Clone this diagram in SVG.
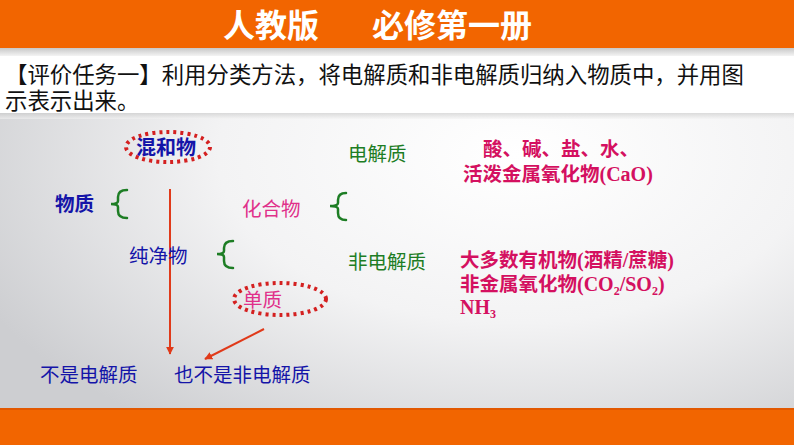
<svg xmlns="http://www.w3.org/2000/svg" width="794" height="445" viewBox="0 0 794 445">
<defs>
<radialGradient id="bg" cx="0.65" cy="0.35" r="0.75">
<stop offset="0" stop-color="#ffffff"/>
<stop offset="0.5" stop-color="#f3f3f4"/>
<stop offset="1" stop-color="#cdced1"/>
</radialGradient>
<linearGradient id="sep" x1="0" y1="0" x2="0" y2="1">
<stop offset="0" stop-color="#c8c8c8"/>
<stop offset="1" stop-color="#f4f4f4"/>
</linearGradient>
<marker id="ah" viewBox="0 0 10 10" refX="9" refY="5" markerWidth="4" markerHeight="4" orient="auto">
<path d="M0,0 L10,5 L0,10 z" fill="#e03a1a"/>
</marker>
<style>
.t{font-family:"Noto Sans CJK SC","Liberation Sans",sans-serif;}
.s{font-family:"Liberation Serif","Noto Sans CJK SC",serif;font-weight:bold;}
.blue{fill:#1414a8;}
.green{fill:#1d7d24;}
.pink{fill:#e0308a;}
.crim{fill:#d41060;}
.brace{fill:none;stroke:#1d7d24;stroke-width:2.5;stroke-linecap:round;}
.dot{fill:none;stroke:#d42020;stroke-width:4;stroke-dasharray:3 4;}
.arr{stroke:#e03a1a;stroke-width:2;fill:none;}
</style>
</defs>
<rect x="0" y="0" width="794" height="445" fill="url(#bg)"/>
<rect x="0" y="0" width="794" height="48" fill="#f26500"/>
<rect x="0" y="48" width="794" height="8" fill="url(#sep)"/>
<rect x="0" y="56" width="794" height="57" fill="#ffffff"/>
<rect x="0" y="113" width="794" height="6" fill="url(#sep)" opacity="0.6"/>
<rect x="0" y="409" width="794" height="36" fill="#f26500"/>
<rect x="0" y="408" width="794" height="2" fill="#e25800"/>

<text class="t" x="223" y="37" font-size="32" font-weight="bold" fill="#ffffff">人教版</text>
<text class="t" x="372" y="37" font-size="32" font-weight="bold" fill="#ffffff">必修第一册</text>
<text class="t" font-size="22.4" fill="#111111"><tspan x="5" y="83">【评价任务一】利用分类方法，将电解质和非电解质归纳入物质中，并用图</tspan><tspan x="5" y="109">示表示出来。</tspan></text>

<g id="connectors">
<line class="arr" x1="170" y1="189" x2="170" y2="354" marker-end="url(#ah)"/>
<line class="arr" x1="264" y1="329" x2="205" y2="359" marker-end="url(#ah)"/>
</g>

<g id="mixture">
<ellipse class="dot" cx="168" cy="147" rx="42" ry="15"/>
<text class="t blue" x="136" y="155" font-size="20" font-weight="bold">混和物</text>
</g>
<g id="substance">
<text class="t blue" x="55" y="211" font-size="19.5" font-weight="bold">物质</text>
<path class="brace" d="M127,190 Q118,190 118,197 L118,201 Q118,204 111,204 Q118,204 118,207 L118,211 Q118,218 127,218"/>
</g>
<g id="pure">
<text class="t blue" x="129" y="263" font-size="19.5">纯净物</text>
<path class="brace" d="M233,241 Q224,241 224,248 L224,251 Q224,254 217,254 Q224,254 224,257 L224,261 Q224,268 233,268"/>
</g>
<g id="compound">
<text class="t pink" x="242" y="216" font-size="19.5">化合物</text>
<path class="brace" d="M346,193 Q338,193 338,200 L338,203 Q338,206 330,206 Q338,206 338,209 L338,213 Q338,220 346,220"/>
</g>
<g id="element">
<ellipse class="dot" cx="280" cy="299" rx="46" ry="16"/>
<text class="t pink" x="243" y="307" font-size="19.5">单质</text>
</g>
<g id="electrolyte">
<text class="t green" x="348" y="161" font-size="19.5">电解质</text>
</g>
<g id="nonelectrolyte">
<text class="t green" x="348" y="269" font-size="19.5">非电解质</text>
</g>
<g id="electrolyte-examples">
<text class="t crim" font-size="19.5" font-weight="bold"><tspan x="483" y="156">酸、碱、盐、水、</tspan><tspan x="463" y="181">活泼金属氧化物</tspan><tspan class="s" font-size="20">(CaO)</tspan></text>
</g>
<g id="nonelectrolyte-examples">
<text class="t crim" font-size="19.5" font-weight="bold"><tspan x="460" y="267">大多数有机物</tspan><tspan class="s" font-size="20">(</tspan>酒精<tspan class="s" font-size="20">/</tspan>蔗糖<tspan class="s" font-size="20">)</tspan><tspan x="460" y="291">非金属氧化物</tspan><tspan class="s" font-size="20">(CO</tspan><tspan class="s" font-size="12" dy="4">2</tspan><tspan class="s" font-size="20" dy="-4">/SO</tspan><tspan class="s" font-size="12" dy="4">2</tspan><tspan class="s" font-size="20" dy="-4">)</tspan><tspan class="s" font-size="20" x="460" y="314">NH</tspan><tspan class="s" font-size="12" dy="4">3</tspan></text>
</g>
<g id="not-electrolyte">
<text class="t blue" x="40" y="382" font-size="19.5">不是电解质</text>
</g>
<g id="not-nonelectrolyte">
<text class="t blue" x="174" y="382" font-size="19.5">也不是非电解质</text>
</g>
</svg>
